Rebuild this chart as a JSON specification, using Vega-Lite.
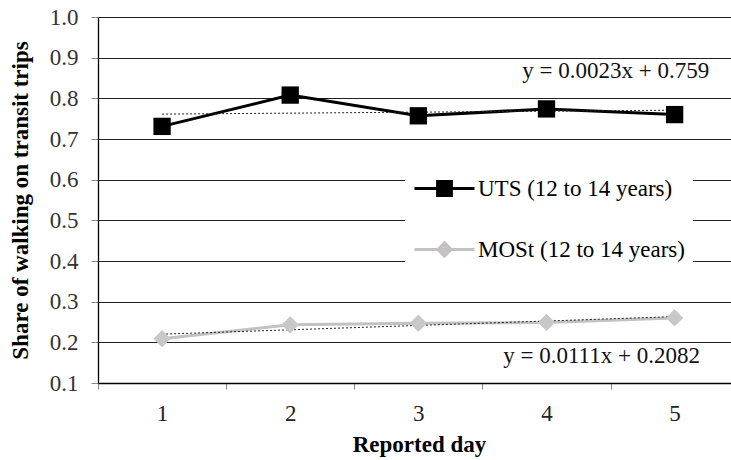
{
  "$schema": "https://vega.github.io/schema/vega-lite/v6.json",
  "width": 633,
  "height": 366,
  "autosize": "none",
  "padding": {"left": 98, "top": 17, "right": 0, "bottom": 77},
  "background": "white",
  "config": {
    "view": {"stroke": null},
    "font": "Liberation Serif, Times New Roman, serif",
    "axis": {"labelFont": "Liberation Serif, Times New Roman, serif", "titleFont": "Liberation Serif, Times New Roman, serif"},
    "legend": {"labelFont": "Liberation Serif, Times New Roman, serif"},
    "text": {"font": "Liberation Serif, Times New Roman, serif"}
  },
  "datasets": {
    "obs": [
      {"day": 1, "share": 0.731, "series": "UTS (12 to 14 years)"},
      {"day": 2, "share": 0.808, "series": "UTS (12 to 14 years)"},
      {"day": 3, "share": 0.757, "series": "UTS (12 to 14 years)"},
      {"day": 4, "share": 0.774, "series": "UTS (12 to 14 years)"},
      {"day": 5, "share": 0.760, "series": "UTS (12 to 14 years)"},
      {"day": 1, "share": 0.209, "series": "MOSt (12 to 14 years)"},
      {"day": 2, "share": 0.243, "series": "MOSt (12 to 14 years)"},
      {"day": 3, "share": 0.247, "series": "MOSt (12 to 14 years)"},
      {"day": 4, "share": 0.249, "series": "MOSt (12 to 14 years)"},
      {"day": 5, "share": 0.260, "series": "MOSt (12 to 14 years)"}
    ],
    "eqs": [
      {"day": 4.54, "share": 0.867, "label": "y = 0.0023x + 0.759"},
      {"day": 4.43, "share": 0.1665, "label": "y = 0.0111x + 0.2082"}
    ]
  },
  "encoding": {
    "x": {
      "field": "day",
      "type": "quantitative",
      "scale": {"domain": [0.5, 5.44], "nice": false, "zero": false},
      "axis": {
        "title": "Reported day",
        "titleFontSize": 23,
        "titleFontWeight": "bold",
        "titleColor": "black",
        "titlePadding": 8,
        "titleX": 321,
        "values": [0.5, 1, 1.5, 2, 2.5, 3, 3.5, 4, 4.5, 5],
        "labelExpr": "datum.value % 1 === 0 ? format(datum.value, 'd') : ''",
        "labelFontSize": 23,
        "labelColor": "#222",
        "labelPadding": 13,
        "grid": false,
        "domainColor": "black",
        "domainWidth": 1.3,
        "tickSize": 6,
        "tickColor": "#888",
        "tickOpacity": {"condition": {"test": "datum.value % 1 === 0", "value": 0}, "value": 1}
      }
    },
    "y": {
      "field": "share",
      "type": "quantitative",
      "scale": {"domain": [0.1, 1.0], "nice": false, "zero": false},
      "axis": {
        "title": "Share of walking on transit trips",
        "titleFontSize": 23,
        "titleFontWeight": "bold",
        "titleColor": "black",
        "titlePadding": 17,
        "values": [0.1, 0.2, 0.3, 0.4, 0.5, 0.6, 0.7, 0.8, 0.9, 1.0],
        "format": ".1f",
        "labelFontSize": 23,
        "labelColor": "#333",
        "labelPadding": 13,
        "grid": true,
        "gridColor": "#222",
        "gridWidth": 1.2,
        "domainColor": "black",
        "domainWidth": 1.3,
        "tickSize": 7,
        "tickColor": "#888"
      }
    }
  },
  "layer": [
    {
      "data": {"name": "obs"},
      "mark": {"type": "line", "strokeWidth": 3},
      "encoding": {
        "color": {
          "field": "series",
          "type": "nominal",
          "scale": {"domain": ["UTS (12 to 14 years)", "MOSt (12 to 14 years)"], "range": ["black", "#c6c1c1"]},
          "legend": {
            "title": null,
            "orient": "none",
            "legendX": 307,
            "legendY": 132,
            "padding": 8,
            "fillColor": "white",
            "labelFontSize": 23,
            "labelColor": "black",
            "labelOffset": 2,
            "symbolSize": 3600,
            "symbolStrokeWidth": 3,
            "rowPadding": 16,
            "labelLimit": 400,
            "encode": {
              "symbols": {
                "update": {
                  "shape": {"signal": "datum.value === 'UTS (12 to 14 years)' ? 'M-1,0H1M-0.23,-0.23H0.23V0.23H-0.23Z' : 'M-1,0H1M0,-0.22L0.22,0L0,0.22L-0.22,0Z'"},
                  "fill": {"signal": "datum.value === 'UTS (12 to 14 years)' ? 'black' : '#c8c8c8'"},
                  "stroke": {"signal": "datum.value === 'UTS (12 to 14 years)' ? 'black' : '#c6c1c1'"},
                  "strokeWidth": {"value": 3},
                  "opacity": {"value": 1}
                }
              }
            }
          }
        }
      }
    },
    {
      "data": {"name": "obs"},
      "transform": [
        {"regression": "share", "on": "day", "groupby": ["series"], "method": "linear", "extent": [1, 5]}
      ],
      "mark": {"type": "line", "strokeWidth": 1, "strokeDash": [2, 2], "color": "#222"},
      "encoding": {"detail": {"field": "series", "type": "nominal"}}
    },
    {
      "data": {"name": "obs"},
      "mark": {"type": "point", "filled": true, "opacity": 1, "size": 300},
      "encoding": {
        "shape": {
          "field": "series",
          "type": "nominal",
          "scale": {"domain": ["UTS (12 to 14 years)", "MOSt (12 to 14 years)"], "range": ["square", "diamond"]},
          "legend": null
        },
        "fill": {
          "field": "series",
          "type": "nominal",
          "scale": {"domain": ["UTS (12 to 14 years)", "MOSt (12 to 14 years)"], "range": ["black", "#c8c8c8"]},
          "legend": null
        }
      }
    },
    {
      "data": {"name": "eqs"},
      "mark": {"type": "text", "fontSize": 23, "color": "#111", "align": "center", "baseline": "middle"},
      "encoding": {"text": {"field": "label", "type": "nominal"}}
    }
  ],
  "resolve": {"scale": {"color": "independent", "fill": "independent", "shape": "independent"}}
}
